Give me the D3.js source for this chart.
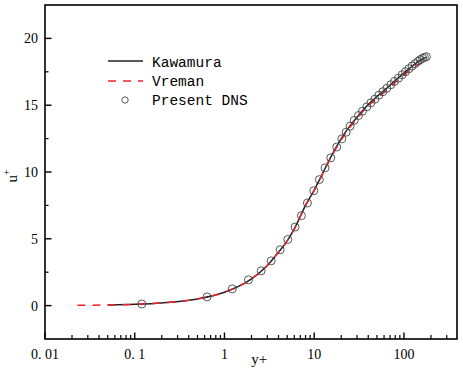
<!doctype html>
<html lang="en">
<head>
<meta charset="utf-8">
<title>u+ vs y+</title>
<script src="https://cdn.jsdelivr.net/npm/d3@7"></script>
<style>
  body { margin: 0; background: #fff; }
  svg { display: block; }
</style>
</head>
<body>
<div id="chart"></div>
<script>
// Kawamura (solid black)
var kawYp = [0.05, 0.1, 0.2, 0.5, 1, 2, 3, 4, 5, 6, 8, 10, 12, 15, 20, 25, 30, 40, 50, 60, 80, 100, 120, 140, 160, 180];
var kawU  = [0.05, 0.1, 0.2, 0.5, 1.0, 2.0, 3.0, 4.0, 4.85, 5.75, 7.5, 8.65, 9.7, 11.0, 12.5, 13.45, 14.1, 15.05, 15.65, 16.1, 16.85, 17.4, 17.85, 18.2, 18.45, 18.6];
// Vreman (dashed red)
var vreYp = [0.023, 0.05, 0.1, 0.2, 0.5, 1, 2, 3, 4, 5, 6, 8, 10, 12, 15, 20, 25, 30, 40, 50, 60, 80, 100, 120, 140, 160, 180];
var vreU  = [0.02, 0.05, 0.1, 0.2, 0.5, 1.0, 2.0, 3.0, 4.0, 4.85, 5.75, 7.5, 8.6, 9.65, 10.95, 12.4, 13.35, 14.0, 14.95, 15.5, 15.95, 16.7, 17.25, 17.7, 18.0, 18.2, 18.3];
// Present DNS (open circles)
var dnsYp = [0.12, 0.64, 1.22, 1.85, 2.56, 3.31, 4.17, 5.08, 6.12, 7.2, 8.4, 9.9, 11.4, 13.2, 15.3, 17.8, 20.3, 22.7, 25.1, 27.9, 31.1, 34.5, 38.6, 42.8, 47.4, 52.5, 58.2, 64.4, 71.4, 78.3, 86.9, 95.5, 104, 113.5, 123, 133, 143, 152, 161, 169, 178];
var dnsU  = [0.12, 0.65, 1.25, 1.93, 2.6, 3.35, 4.18, 4.95, 5.88, 6.73, 7.68, 8.6, 9.43, 10.31, 11.06, 11.87, 12.48, 12.98, 13.43, 13.86, 14.23, 14.55, 14.88, 15.18, 15.45, 15.75, 16.01, 16.26, 16.53, 16.78, 17.03, 17.28, 17.51, 17.73, 17.93, 18.11, 18.28, 18.41, 18.51, 18.58, 18.63];

var xMajor = [0.01, 0.1, 1, 10, 100];
var xMajorLabels = ["0. 01", "0. 1", "1", "10", "100"];
var yMajor = [0, 5, 10, 15, 20];
var yMinor = [2.5, 7.5, 12.5, 17.5];

var legendNames = ["Kawamura", "Vreman", "Present DNS"];

var W = 463, H = 373;
var margin = { top: 5, right: 6, bottom: 34, left: 45 };
var width = W - margin.left - margin.right,
    height = H - margin.top - margin.bottom;

var svg = d3.select("#chart").append("svg")
  .attr("width", W)
  .attr("height", H);
var g = svg.append("g")
  .attr("transform", "translate(" + margin.left + "," + margin.top + ")");

var x = d3.scaleLog().domain([0.01, 390]).range([0, width]);
var y = d3.scaleLinear().domain([-2.5, 22.5]).range([height, 0]);

// minor x ticks: 2..9 of each decade inside domain
var xMinor = [];
[0.01, 0.1, 1, 10, 100].forEach(function(d) {
  for (var k = 2; k <= 9; k++) {
    var v = d * k;
    if (v < x.domain()[1]) xMinor.push(v);
  }
});

var serif = "'Liberation Serif', 'Times New Roman', serif";

// x axis ticks (inward)
var xAx = g.append("g").attr("transform", "translate(0," + height + ")");
xAx.selectAll(".xmin").data(xMinor).enter().append("line")
  .attr("x1", function(d) { return x(d); }).attr("x2", function(d) { return x(d); })
  .attr("y1", 0).attr("y2", -4)
  .attr("stroke", "#000").attr("stroke-width", 1.2);
xAx.selectAll(".xmaj").data(xMajor).enter().append("line")
  .attr("x1", function(d) { return x(d); }).attr("x2", function(d) { return x(d); })
  .attr("y1", 0).attr("y2", -6.5)
  .attr("stroke", "#000").attr("stroke-width", 1.4);
xAx.selectAll(".xlab").data(xMajor).enter().append("text")
  .attr("x", function(d) { return x(d); })
  .attr("y", 20)
  .attr("text-anchor", "middle")
  .style("font-family", serif)
  .style("font-size", "14px")
  .text(function(d, i) { return xMajorLabels[i]; });

// y axis ticks (inward)
var yAx = g.append("g");
yAx.selectAll(".ymin").data(yMinor).enter().append("line")
  .attr("x1", 0).attr("x2", 3.5)
  .attr("y1", function(d) { return y(d); }).attr("y2", function(d) { return y(d); })
  .attr("stroke", "#000").attr("stroke-width", 1.2);
yAx.selectAll(".ymaj").data(yMajor).enter().append("line")
  .attr("x1", 0).attr("x2", 6.5)
  .attr("y1", function(d) { return y(d); }).attr("y2", function(d) { return y(d); })
  .attr("stroke", "#000").attr("stroke-width", 1.4);
yAx.selectAll(".ylab").data(yMajor).enter().append("text")
  .attr("x", -7)
  .attr("y", function(d) { return y(d); })
  .attr("dy", "0.35em")
  .attr("text-anchor", "end")
  .style("font-family", serif)
  .style("font-size", "14px")
  .text(function(d) { return d; });

// frame
g.append("rect")
  .attr("width", width).attr("height", height)
  .attr("fill", "none").attr("stroke", "#000").attr("stroke-width", 1.6);

// axis titles
svg.append("text")
  .attr("x", margin.left + x(10) - 55)
  .attr("y", 364)
  .attr("text-anchor", "middle")
  .style("font-family", serif)
  .style("font-size", "15px")
  .text("y+");

var ut = svg.append("text")
  .attr("transform", "translate(17," + (margin.top + y(10) + 4) + ") rotate(-90)")
  .attr("text-anchor", "middle")
  .style("font-family", serif)
  .style("font-size", "15px");
ut.append("tspan").text("u");
ut.append("tspan").attr("dy", -7).style("font-size", "10px").text("+");

// curves
var line = d3.line()
  .x(function(d) { return x(d[0]); })
  .y(function(d) { return y(d[1]); })
  .curve(d3.curveMonotoneX);

g.append("path")
  .datum(kawYp.map(function(v, i) { return [v, kawU[i]]; }))
  .attr("d", line)
  .attr("fill", "none")
  .attr("stroke", "#222")
  .attr("stroke-width", 1.5);

g.append("path")
  .datum(vreYp.map(function(v, i) { return [v, vreU[i]]; }))
  .attr("d", line)
  .attr("fill", "none")
  .attr("stroke", "#f0222a")
  .attr("stroke-width", 1.5)
  .attr("stroke-dasharray", "8,7");

g.selectAll(".dns")
  .data(dnsYp.map(function(v, i) { return [v, dnsU[i]]; }))
  .enter().append("circle")
  .attr("class", "dns")
  .attr("cx", function(d) { return x(d[0]); })
  .attr("cy", function(d) { return y(d[1]); })
  .attr("r", 4)
  .attr("fill", "none")
  .attr("stroke", "#444")
  .attr("stroke-width", 0.9);

// legend
var leg = svg.append("g");
var mono = "'Liberation Mono', 'Courier New', monospace";
leg.append("line")
  .attr("x1", 108).attr("x2", 143).attr("y1", 61).attr("y2", 61)
  .attr("stroke", "#222").attr("stroke-width", 1.5);
leg.append("line")
  .attr("x1", 108).attr("x2", 143).attr("y1", 81).attr("y2", 81)
  .attr("stroke", "#f0222a").attr("stroke-width", 1.5)
  .attr("stroke-dasharray", "8,7");
leg.append("circle")
  .attr("cx", 125).attr("cy", 100).attr("r", 3.2)
  .attr("fill", "none").attr("stroke", "#444").attr("stroke-width", 0.9);
leg.selectAll(".lt").data(legendNames).enter().append("text")
  .attr("x", 152)
  .attr("y", function(d, i) { return 66.5 + i * 19.3; })
  .style("font-family", mono)
  .style("font-size", "14.5px")
  .text(function(d) { return d; });
</script>
</body>
</html>
